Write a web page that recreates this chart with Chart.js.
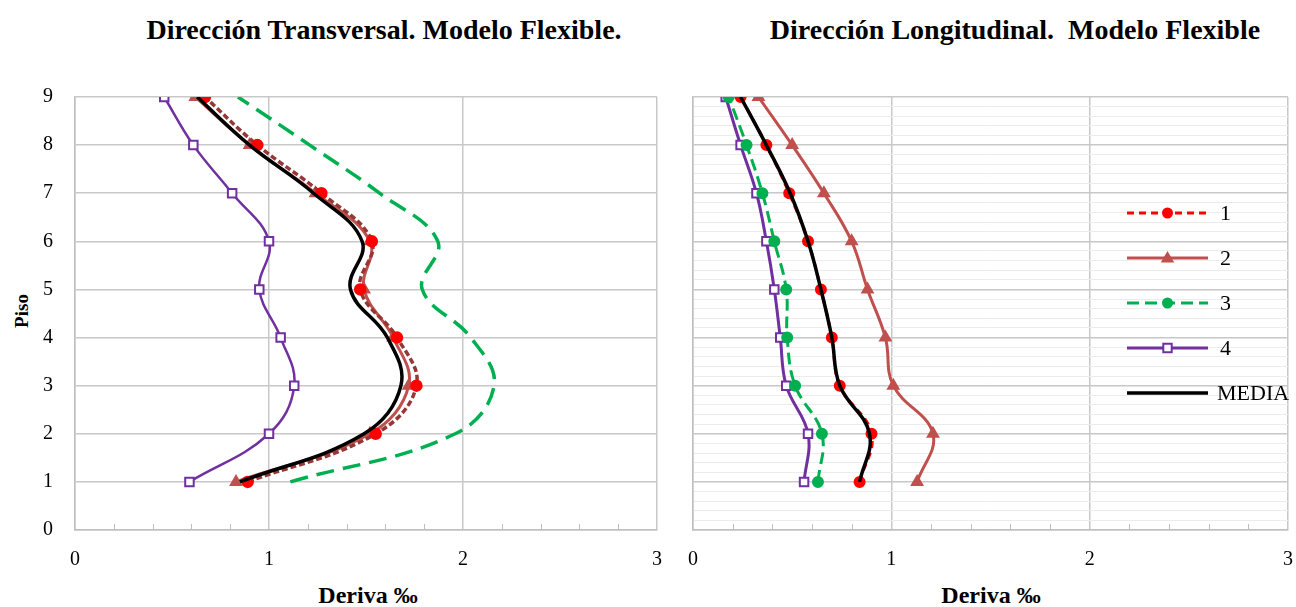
<!DOCTYPE html>
<html>
<head>
<meta charset="utf-8">
<script src="https://cdn.jsdelivr.net/npm/chart.js@4.4.1/dist/chart.umd.min.js"></script>
<style>
  body { margin: 0; background: #fff; width: 1296px; height: 607px; position: relative; overflow: hidden; font-family: "Liberation Serif", serif; }
  canvas { position: absolute; top: 0; }
  .title { position: absolute; top: 14px; font-weight: bold; font-size: 28px; white-space: nowrap; transform: translateX(-50%); color: #000; }
  .axt { position: absolute; font-weight: bold; white-space: nowrap; color: #000; }
</style>
</head>
<body>
<div class="title" style="left:384px">Dirección Transversal. Modelo Flexible.</div>
<div class="title" style="left:1015px">Dirección Longitudinal.&nbsp; Modelo Flexible</div>
<div class="axt" style="left:22px;top:311px;font-size:19px;transform:translate(-50%,-50%) rotate(-90deg)">Piso</div>
<div class="axt" style="left:368px;top:595px;font-size:24px;transform:translate(-50%,-50%)">Deriva ‰</div>
<div class="axt" style="left:991px;top:595px;font-size:24px;transform:translate(-50%,-50%)">Deriva ‰</div>
<canvas id="chartT" style="left:0px"></canvas>
<canvas id="chartL" style="left:680px"></canvas>
<script>
// floors (y) and drift values (x)
const floors = [1, 2, 3, 4, 5, 6, 7, 8, 9];
const xTicks = [0, 1, 2, 3];
const seriesNames = ['1', '2', '3', '4', 'MEDIA'];

// Dirección Transversal
const trans1 = [0.89, 1.55, 1.76, 1.66, 1.47, 1.53, 1.27, 0.94, 0.67];
const trans2 = [0.83, 1.52, 1.72, 1.64, 1.49, 1.52, 1.24, 0.90, 0.62];
const trans3 = [1.11, 1.96, 2.16, 2.04, 1.79, 1.87, 1.57, 1.21, 0.84];
const trans4 = [0.59, 1.00, 1.13, 1.06, 0.95, 1.00, 0.81, 0.61, 0.46];
const transMedia = [0.85, 1.49, 1.68, 1.61, 1.42, 1.48, 1.23, 0.90, 0.63];

// Dirección Longitudinal
const long1 = [0.84, 0.90, 0.74, 0.70, 0.645, 0.58, 0.485, 0.37, 0.24];
const long2 = [1.13, 1.21, 1.01, 0.97, 0.88, 0.80, 0.66, 0.50, 0.33];
const long3 = [0.63, 0.65, 0.515, 0.475, 0.47, 0.41, 0.35, 0.27, 0.18];
const long4 = [0.56, 0.58, 0.47, 0.44, 0.41, 0.37, 0.32, 0.24, 0.165];
const longMedia = [0.84, 0.89, 0.74, 0.70, 0.645, 0.58, 0.49, 0.37, 0.24];

Chart.defaults.font.family = '"Liberation Serif", serif';
Chart.defaults.color = '#000';

function pts(vals) {
  return vals.map((v, i) => ({ x: v, y: floors[i] }));
}
function isInt(v) {
  return Math.abs(v - Math.round(v)) < 1e-6;
}

// small inward tick marks on the x axis every 0.2
const minorTicks = {
  id: 'minorTicks',
  afterDraw(chart) {
    const x = chart.scales.x, ctx = chart.ctx, b = chart.chartArea.bottom;
    ctx.save();
    ctx.strokeStyle = '#bfbfbf';
    ctx.lineWidth = 1;
    for (let v = 0.2; v < 3; v += 0.2) {
      if (isInt(v)) continue;
      const px = Math.round(x.getPixelForValue(v)) + 0.5;
      ctx.beginPath();
      ctx.moveTo(px, b);
      ctx.lineTo(px, b - 6);
      ctx.stroke();
    }
    ctx.restore();
  }
};

// legend drawn inside the right chart
const insideLegend = {
  id: 'insideLegend',
  afterDraw(chart) {
    const ctx = chart.ctx;
    const x0 = 447, x1 = 528, tx = 540, y0 = 213, dy = 45;
    chart.data.datasets.forEach((ds, i) => {
      const y = y0 + i * dy;
      ctx.save();
      ctx.strokeStyle = ds.borderColor;
      ctx.lineWidth = ds.borderWidth;
      ctx.setLineDash(ds.borderDash || []);
      ctx.beginPath();
      ctx.moveTo(x0, y);
      ctx.lineTo(x1, y);
      ctx.stroke();
      ctx.setLineDash([]);
      const cx = (x0 + x1) / 2;
      const r = ds.pointRadius;
      if (r > 0) {
        ctx.fillStyle = ds.pointBackgroundColor;
        ctx.strokeStyle = ds.pointBorderColor;
        ctx.lineWidth = 2;
        ctx.beginPath();
        if (ds.pointStyle === 'circle') {
          ctx.arc(cx, y, r, 0, Math.PI * 2);
        } else if (ds.pointStyle === 'triangle') {
          ctx.moveTo(cx, y - r);
          ctx.lineTo(cx + r, y + r * 0.7);
          ctx.lineTo(cx - r, y + r * 0.7);
          ctx.closePath();
        } else {
          ctx.rect(cx - r * 0.7, y - r * 0.7, r * 1.4, r * 1.4);
        }
        ctx.fill();
        ctx.stroke();
      }
      ctx.fillStyle = '#000';
      ctx.font = '22px "Liberation Serif", serif';
      ctx.textBaseline = 'middle';
      ctx.fillText(seriesNames[i], i === 4 ? tx - 3 : tx, y + 1);
      ctx.restore();
    });
  }
};

function xScale() {
  return {
    type: 'linear',
    min: 0, max: 3,
    afterBuildTicks(s) { s.ticks = []; for (let k = 0; k <= 15; k++) s.ticks.push({ value: k / 5 }); },
    afterFit(s) { s.height = 77; s.paddingLeft = 0; s.paddingRight = 0; },
    ticks: {
      autoSkip: false, maxRotation: 0, padding: 18,
      font: { size: 20 },
      callback: v => (isInt(v) ? String(Math.round(v)) : '')
    },
    grid: {
      drawTicks: false,
      color: c => (isInt(c.tick.value) ? '#c8c8c8' : 'rgba(0,0,0,0)'),
      lineWidth: 1.5
    },
    border: { color: '#bfbfbf', width: 1.5 }
  };
}

function makeChart(id, width, leftW, rightPad, sets, minor) {
  const cv = document.getElementById(id);
  cv.width = width;   // Set width
  cv.height = 607;    // Set height
  return new Chart(cv.getContext('2d'), {
    type: 'line',
    data: { datasets: sets },
    options: {
      responsive: false,
      animation: false,
      devicePixelRatio: 1,
      layout: { padding: { left: 0, top: 97, right: rightPad, bottom: 0 } },
      plugins: { legend: { display: false }, tooltip: { enabled: false } },
      scales: {
        x: xScale(),
        y: {
          type: 'linear',
          min: 0, max: 9,
          afterBuildTicks(s) {
            s.ticks = [];
            const step = minor ? 0.2 : 1;
            for (let k = 0; k <= Math.round(9 / step); k++) s.ticks.push({ value: +(k * step).toFixed(2) });
          },
          afterFit(s) { s.width = leftW; s.paddingTop = 0; s.paddingBottom = 0; },
          ticks: {
            display: !minor, autoSkip: false, padding: 22,
            font: { size: 20 },
            callback: v => (isInt(v) ? String(Math.round(v)) : '')
          },
          grid: {
            drawTicks: false,
            color: c => (isInt(c.tick.value) ? '#c8c8c8' : '#ececec'),
            lineWidth: c => (isInt(c.tick.value) ? 1.5 : 1)
          },
          border: { color: '#bfbfbf', width: 1.5 }
        }
      }
    },
    plugins: minor ? [minorTicks, insideLegend] : [minorTicks]
  });
}

const T = 0.4;

makeChart('chartT', 680, 75, 23, [
  { label: '1', data: pts(trans1), borderColor: '#953735', borderWidth: 3.5, borderDash: [6, 3], tension: T,
    pointStyle: 'circle', pointRadius: 4.5, pointBackgroundColor: '#ff0000', pointBorderColor: '#ff0000', order: 1 },
  { label: '2', data: pts(trans2), borderColor: '#c0504d', borderWidth: 3, tension: T,
    pointStyle: 'triangle', pointRadius: 5, pointBackgroundColor: '#c0504d', pointBorderColor: '#c0504d', order: 2 },
  { label: '3', data: pts(trans3), borderColor: '#00b050', borderWidth: 3.5, borderDash: [18, 9], tension: T,
    pointRadius: 0, order: 3 },
  { label: '4', data: pts(trans4), borderColor: '#7030a0', borderWidth: 2.5, tension: T,
    pointStyle: 'rect', pointRadius: 6, pointBackgroundColor: '#ffffff', pointBorderColor: '#7030a0', pointBorderWidth: 2, order: 4 },
  { label: 'MEDIA', data: pts(transMedia), borderColor: '#000000', borderWidth: 3.5, tension: T,
    pointRadius: 0, order: 0 }
], false);

makeChart('chartL', 616, 13, 6, [
  { label: '1', data: pts(long1), borderColor: '#ff0000', borderWidth: 3, borderDash: [7, 5], tension: T,
    pointStyle: 'circle', pointRadius: 4.5, pointBackgroundColor: '#ff0000', pointBorderColor: '#ff0000', order: 1 },
  { label: '2', data: pts(long2), borderColor: '#c0504d', borderWidth: 3, tension: T,
    pointStyle: 'triangle', pointRadius: 5, pointBackgroundColor: '#c0504d', pointBorderColor: '#c0504d', order: 2 },
  { label: '3', data: pts(long3), borderColor: '#00b050', borderWidth: 3, borderDash: [12, 6], tension: T,
    pointStyle: 'circle', pointRadius: 4.5, pointBackgroundColor: '#00b050', pointBorderColor: '#00b050', order: 3 },
  { label: '4', data: pts(long4), borderColor: '#7030a0', borderWidth: 3, tension: T,
    pointStyle: 'rect', pointRadius: 6, pointBackgroundColor: '#ffffff', pointBorderColor: '#7030a0', pointBorderWidth: 2, order: 4 },
  { label: 'MEDIA', data: pts(longMedia), borderColor: '#000000', borderWidth: 3.5, tension: T,
    pointRadius: 0, order: 0 }
], true);
</script>
</body>
</html>
